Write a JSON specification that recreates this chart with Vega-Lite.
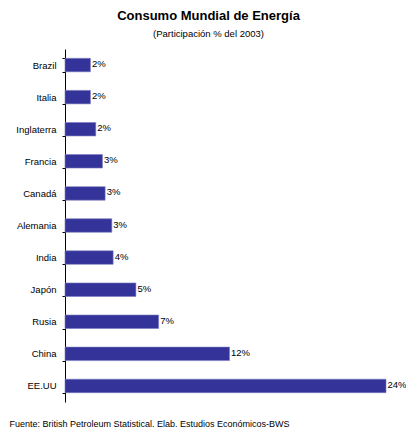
{
  "$schema": "https://vega.github.io/schema/vega-lite/v6.json",
  "autosize": {"type": "none"},
  "padding": {"left": 65, "top": 49, "right": 20, "bottom": 26},
  "width": 321,
  "height": 353,
  "background": "white",
  "config": {
    "view": {"stroke": null},
    "font": "Liberation Sans, Arial, sans-serif"
  },
  "title": {
    "text": "Consumo Mundial de Energía",
    "subtitle": "(Participación %  del 2003)",
    "anchor": "middle",
    "frame": "group",
    "dx": -17,
    "offset": 6,
    "fontSize": 13,
    "fontWeight": "bold",
    "color": "#000000",
    "subtitleFontSize": 9.5,
    "subtitleColor": "#000000",
    "subtitlePadding": 6,
    "font": "Liberation Sans, Arial, sans-serif",
    "subtitleFont": "Liberation Sans, Arial, sans-serif"
  },
  "data": {
    "values": [
      {"pais": "Brazil", "valor": 1.9, "etiqueta": "2%"},
      {"pais": "Italia", "valor": 1.9, "etiqueta": "2%"},
      {"pais": "Inglaterra", "valor": 2.3, "etiqueta": "2%"},
      {"pais": "Francia", "valor": 2.8, "etiqueta": "3%"},
      {"pais": "Canadá", "valor": 3.0, "etiqueta": "3%"},
      {"pais": "Alemania", "valor": 3.5, "etiqueta": "3%"},
      {"pais": "India", "valor": 3.6, "etiqueta": "4%"},
      {"pais": "Japón", "valor": 5.3, "etiqueta": "5%"},
      {"pais": "Rusia", "valor": 7.0, "etiqueta": "7%"},
      {"pais": "China", "valor": 12.3, "etiqueta": "12%"},
      {"pais": "EE.UU", "valor": 24.0, "etiqueta": "24%"}
    ]
  },
  "encoding": {
    "y": {
      "field": "pais",
      "type": "nominal",
      "sort": null,
      "scale": {"paddingInner": 0.58, "paddingOuter": 0.29},
      "axis": {
        "title": null,
        "domainColor": "#000000",
        "domainWidth": 1,
        "tickColor": "#000000",
        "tickSize": 3,
        "tickBand": "extent",
        "labelPadding": 6,
        "labelFontSize": 9.5,
        "labelColor": "#000000",
        "labelFont": "Liberation Sans, Arial, sans-serif"
      }
    },
    "x": {
      "field": "valor",
      "type": "quantitative",
      "scale": {"domain": [0, 24], "nice": false, "zero": true},
      "axis": {
        "domain": false,
        "ticks": false,
        "labels": false,
        "grid": false,
        "title": "Fuente: British Petroleum Statistical.  Elab. Estudios Económicos-BWS",
        "titleAnchor": "start",
        "titleAlign": "left",
        "titleBaseline": "alphabetic",
        "titleX": -56,
        "titleY": 24,
        "titleFontSize": 9,
        "titleFontWeight": "normal",
        "titleColor": "#000000",
        "titleFont": "Liberation Sans, Arial, sans-serif"
      }
    }
  },
  "layer": [
    {
      "mark": {"type": "bar", "color": "#333399", "stroke": "#7a7abf", "strokeWidth": 0.6, "cornerRadius": 0}
    },
    {
      "mark": {"type": "text", "align": "left", "baseline": "middle", "dx": 1.5, "dy": -1, "fontSize": 9.5, "color": "#000000"},
      "encoding": {"text": {"field": "etiqueta"}}
    }
  ]
}
